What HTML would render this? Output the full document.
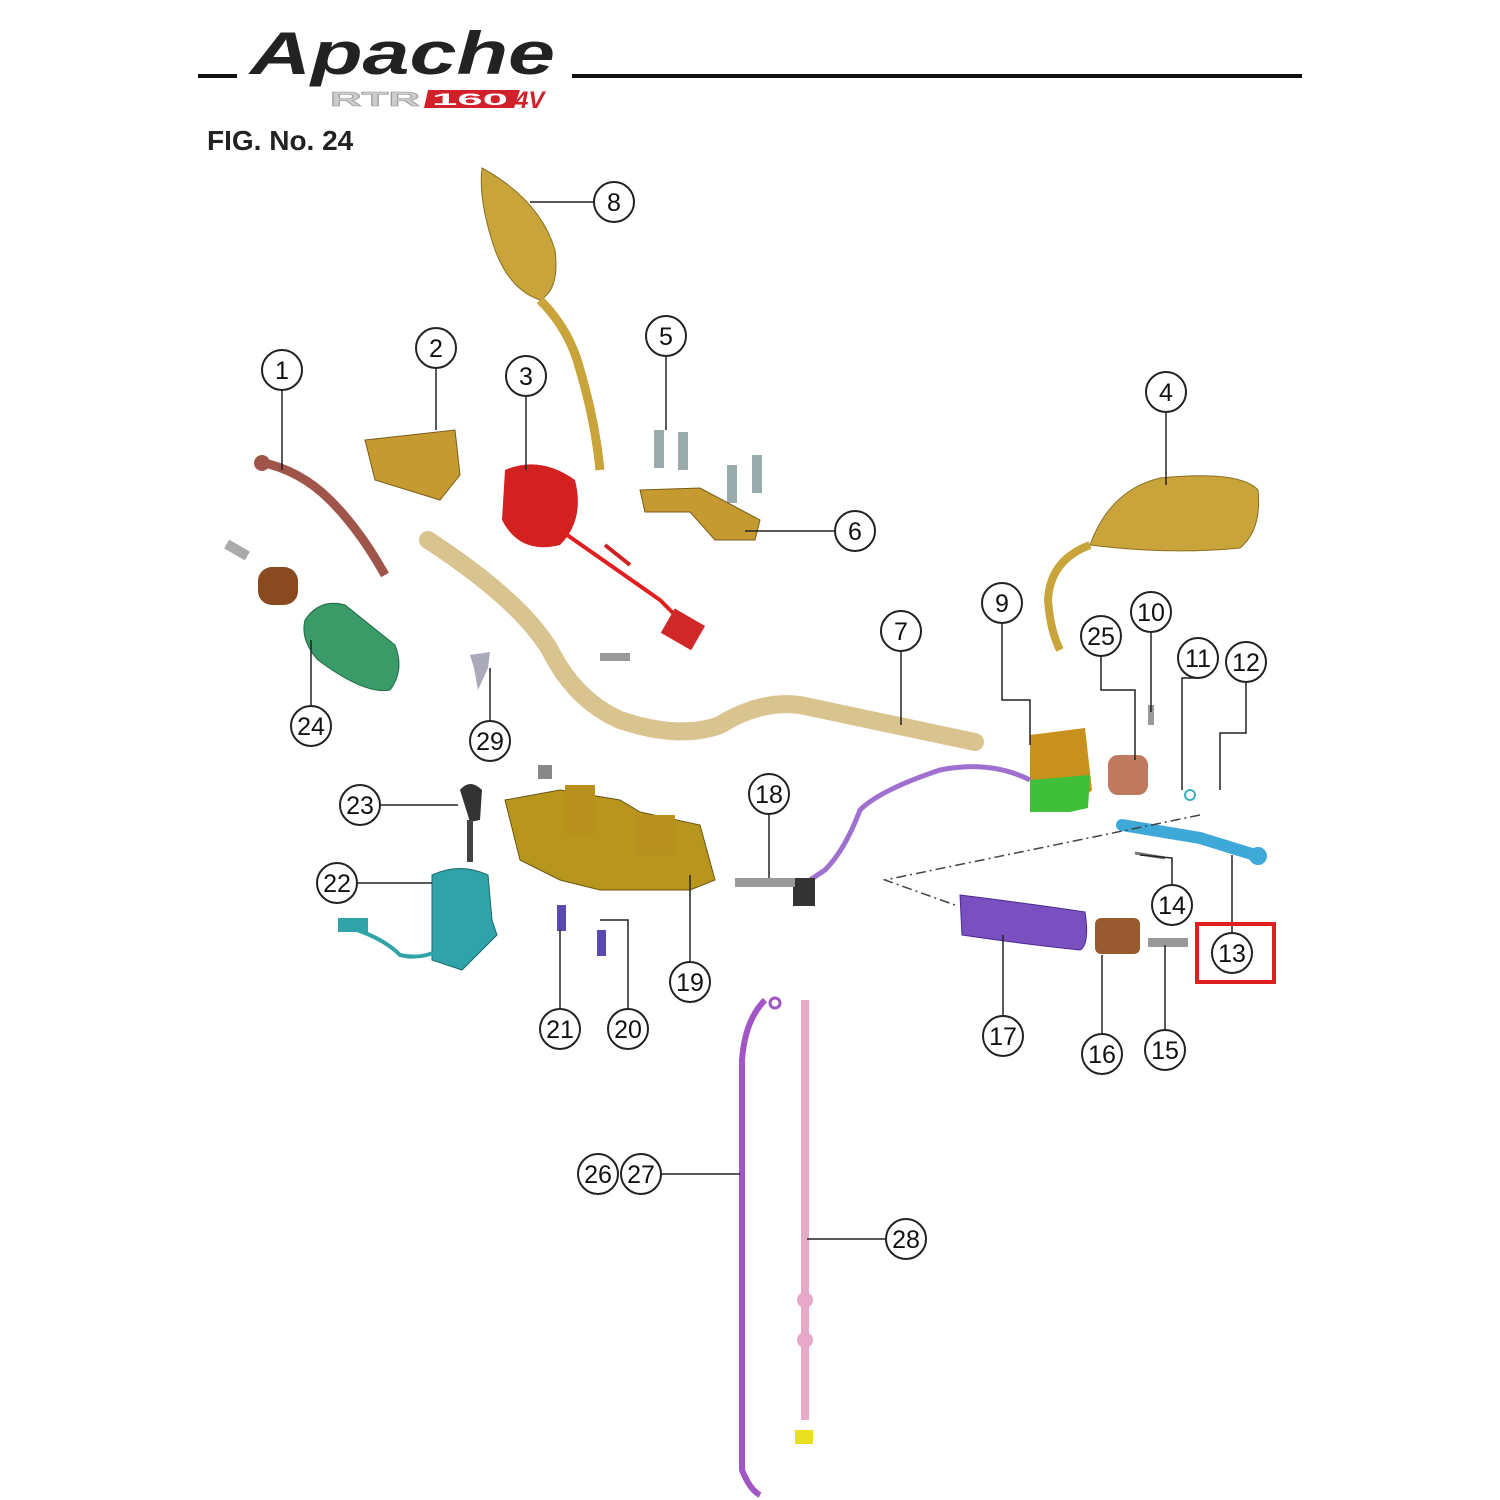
<!DOCTYPE html>
<html><head><style>
html,body{margin:0;padding:0;background:#fff;width:1500px;height:1500px;overflow:hidden}
svg text{font-family:"Liberation Sans",sans-serif}
</style></head><body>
<svg width="1500" height="1500" viewBox="0 0 1500 1500" xmlns="http://www.w3.org/2000/svg">
<rect width="1500" height="1500" fill="#fff"/>
<!-- header -->
<line x1="198" y1="76" x2="237" y2="76" stroke="#111" stroke-width="4"/>
<line x1="572" y1="76" x2="1302" y2="76" stroke="#111" stroke-width="4"/>
<text x="250" y="74" font-size="60" font-style="italic" font-weight="bold" fill="#222" textLength="305" lengthAdjust="spacingAndGlyphs" font-family="Liberation Serif">Apache</text>
<text x="330" y="106" font-size="20" fill="#ccc" stroke="#999" stroke-width="0.6" font-weight="bold" textLength="90" lengthAdjust="spacingAndGlyphs">RTR</text>
<polygon points="428,90 520,90 514,108 424,108" fill="#d0202a"/>
<text x="432" y="105" font-size="17" fill="#fff" font-weight="bold" textLength="76" lengthAdjust="spacingAndGlyphs">160</text>
<text x="515" y="108" font-size="24" font-style="italic" fill="#d0202a" font-weight="bold">4V</text>
<text x="207" y="150" font-size="28" font-weight="bold" fill="#222">FIG. No. 24</text>

<!-- mirror 8 -->
<path d="M482,168 Q540,200 555,250 Q560,290 540,300 Q510,290 495,250 Q478,200 482,168Z" fill="#c9a43a" stroke="#8a6f20"/>
<path d="M540,300 Q570,330 580,370 Q595,420 600,470" stroke="#c9a43a" stroke-width="9" fill="none"/>
<!-- mirror 4 -->
<path d="M1090,545 Q1110,490 1160,478 Q1240,470 1258,490 Q1262,530 1240,548 Q1170,555 1090,545Z" fill="#c9a43a" stroke="#8a6f20"/>
<path d="M1090,545 Q1050,560 1048,600 Q1050,630 1060,650" stroke="#c9a43a" stroke-width="8" fill="none"/>
<!-- handlebar 7 -->
<path d="M428,540 Q520,600 550,650 Q575,700 620,720 Q680,740 720,725 Q760,700 800,705 L975,742" stroke="#d9c38f" stroke-width="18" fill="none" stroke-linecap="round"/>
<!-- switch 3 -->
<path d="M505,470 Q540,455 575,480 Q585,520 560,545 Q520,555 502,520Z" fill="#d32020"/>
<path d="M560,530 L660,600 L690,630" stroke="#e02020" stroke-width="4" fill="none"/>
<rect x="665" y="615" width="35" height="28" fill="#d02828" transform="rotate(30 682 630)"/>
<line x1="605" y1="545" x2="630" y2="565" stroke="#d02020" stroke-width="4"/>
<!-- lever 1 -->
<path d="M260,462 Q300,470 330,500 Q360,530 385,575" stroke="#a0554a" stroke-width="9" fill="none"/>
<circle cx="262" cy="463" r="8" fill="#a0554a"/>
<!-- master cyl 2 -->
<path d="M365,440 L455,430 L460,475 L440,500 L375,480Z" fill="#c59a30" stroke="#7a5c1a"/>
<!-- bolts 5 -->
<rect x="654" y="430" width="10" height="38" fill="#9aa"/><rect x="678" y="432" width="10" height="38" fill="#9aa"/>
<rect x="727" y="465" width="10" height="38" fill="#9aa"/><rect x="752" y="455" width="10" height="38" fill="#9aa"/>
<!-- clamp 6 -->
<path d="M640,490 L700,488 L760,520 L755,540 L715,540 L690,512 L645,512Z" fill="#c59a30" stroke="#7a5c1a"/>
<!-- small parts left -->
<rect x="225" y="545" width="24" height="10" fill="#aaa" transform="rotate(30 237 550)"/>
<rect x="258" y="567" width="40" height="38" rx="14" fill="#8a4a20"/>
<path d="M305,620 Q320,598 345,605 L395,645 Q405,670 390,690 Q365,695 318,660 Q300,640 305,620Z" fill="#3a9a68" stroke="#1f6a44"/>
<path d="M470,655 L490,652 L488,668 L478,690 L474,668Z" fill="#aab"/>
<rect x="600" y="653" width="30" height="8" fill="#999"/>
<!-- switch 9 -->
<path d="M1030,735 L1085,728 L1092,790 L1070,812 L1030,812Z" fill="#c8901c"/>
<path d="M1030,780 L1090,775 L1088,808 L1070,812 L1030,812Z" fill="#3fbf3a"/>
<rect x="1108" y="755" width="40" height="40" rx="10" fill="#c07a60"/>
<circle cx="1190" cy="795" r="5" fill="none" stroke="#3ab0c0" stroke-width="2"/>
<rect x="1148" y="705" width="6" height="20" fill="#999"/>
<!-- purple wire -->
<path d="M1030,780 Q990,760 940,770 Q880,790 860,810 Q845,850 825,870 L810,880" stroke="#a070d0" stroke-width="5" fill="none"/>
<rect x="793" y="878" width="22" height="28" fill="#333"/>
<rect x="735" y="878" width="60" height="9" fill="#999"/>
<!-- lever 13 -->
<path d="M1122,825 L1200,838 L1255,855" stroke="#3ea8d8" stroke-width="12" fill="none" stroke-linecap="round"/>
<circle cx="1258" cy="856" r="9" fill="#3ea8d8"/>
<path d="M1135,853 L1165,858" stroke="#777" stroke-width="3"/>
<!-- dash-dot lines -->
<path d="M1200,815 L885,880 L955,905" stroke="#444" stroke-width="1.5" fill="none" stroke-dasharray="10,4,2,4"/>
<!-- grip 17 -->
<path d="M960,895 Q1040,905 1085,912 Q1090,945 1080,950 Q1030,945 962,935Z" fill="#7a50c0" stroke="#4a2a90"/>
<rect x="1095" y="918" width="45" height="36" rx="6" fill="#9a5a30"/>
<rect x="1148" y="938" width="40" height="9" fill="#999"/>
<!-- bracket 19 -->
<path d="M505,800 L560,790 L620,800 L640,812 L700,825 L715,880 L690,890 L600,890 L560,880 L520,860Z" fill="#b8961e" stroke="#6a5510"/>
<rect x="565" y="785" width="30" height="50" fill="#b8901e"/><rect x="635" y="815" width="40" height="40" fill="#b8901e"/>
<rect x="557" y="905" width="9" height="26" fill="#5a4ab0"/><rect x="597" y="930" width="9" height="26" fill="#5a4ab0"/>
<rect x="538" y="765" width="14" height="14" fill="#888"/>
<!-- key 23 -->
<path d="M460,790 Q470,778 482,790 L480,820 L470,822Z" fill="#333"/><rect x="467" y="820" width="6" height="42" fill="#444"/>
<!-- ignition 22 -->
<path d="M432,875 Q460,862 488,875 L492,920 L497,935 L462,970 L432,960Z" fill="#2fa3a8" stroke="#1a6a6c"/>
<path d="M340,925 Q380,935 400,955 Q420,960 440,950" stroke="#2fa3a8" stroke-width="4" fill="none"/>
<rect x="338" y="918" width="30" height="14" fill="#2fa3a8"/>
<!-- cable 26 -->
<path d="M765,1000 Q745,1020 742,1060 L742,1470 Q750,1490 760,1495" stroke="#a255c4" stroke-width="6" fill="none"/>
<circle cx="775" cy="1003" r="5" fill="none" stroke="#a255c4" stroke-width="3"/>
<!-- cable 28 -->
<line x1="805" y1="1000" x2="805" y2="1420" stroke="#e8a8c8" stroke-width="8"/>
<circle cx="805" cy="1300" r="8" fill="#e8a8c8"/><circle cx="805" cy="1340" r="8" fill="#e8a8c8"/>
<rect x="795" y="1430" width="18" height="14" fill="#e8e020"/>

<!-- leader lines -->
<g stroke="#222" stroke-width="1.5" fill="none">
<path d="M594,202 L530,202"/>
<path d="M282,390 L282,470"/>
<path d="M436,368 L436,430"/>
<path d="M526,396 L526,470"/>
<path d="M666,356 L666,430"/>
<path d="M1166,412 L1166,485"/>
<path d="M835,531 L745,531"/>
<path d="M901,651 L901,725"/>
<path d="M1002,623 L1002,700 L1030,700 L1030,745"/>
<path d="M1101,656 L1101,690 L1135,690 L1135,760"/>
<path d="M1151,632 L1151,712"/>
<path d="M1198,678 L1182,678 L1182,790"/>
<path d="M1246,682 L1246,733 L1220,733 L1220,790"/>
<path d="M311,706 L311,640"/>
<path d="M490,721 L490,668"/>
<path d="M380,805 L458,805"/>
<path d="M769,814 L769,878"/>
<path d="M357,883 L432,883"/>
<path d="M1172,885 L1172,858 L1140,855"/>
<path d="M1232,933 L1232,855"/>
<path d="M690,962 L690,875"/>
<path d="M560,1009 L560,930"/>
<path d="M628,1009 L628,920 L600,920"/>
<path d="M1003,1016 L1003,935"/>
<path d="M1102,1034 L1102,955"/>
<path d="M1165,1030 L1165,945"/>
<path d="M661,1174 L740,1174"/>
<path d="M886,1239 L807,1239"/>
</g>
<rect x="1197" y="924" width="77" height="58" fill="none" stroke="#e02020" stroke-width="4"/>
<!-- callouts -->
<g fill="#fff" stroke="#222" stroke-width="2">
<circle cx="614" cy="202" r="20"/><circle cx="282" cy="370" r="20"/><circle cx="436" cy="348" r="20"/>
<circle cx="526" cy="376" r="20"/><circle cx="666" cy="336" r="20"/><circle cx="1166" cy="392" r="20"/>
<circle cx="855" cy="531" r="20"/><circle cx="901" cy="631" r="20"/><circle cx="1002" cy="603" r="20"/>
<circle cx="1101" cy="636" r="20"/><circle cx="1151" cy="612" r="20"/><circle cx="1198" cy="658" r="20"/>
<circle cx="1246" cy="662" r="20"/><circle cx="311" cy="726" r="20"/><circle cx="490" cy="741" r="20"/>
<circle cx="360" cy="805" r="20"/><circle cx="769" cy="794" r="20"/><circle cx="337" cy="883" r="20"/>
<circle cx="1172" cy="905" r="20"/><circle cx="1232" cy="953" r="20"/><circle cx="690" cy="982" r="20"/>
<circle cx="560" cy="1029" r="20"/><circle cx="628" cy="1029" r="20"/><circle cx="1003" cy="1036" r="20"/>
<circle cx="1102" cy="1054" r="20"/><circle cx="1165" cy="1050" r="20"/><circle cx="598" cy="1174" r="20"/>
<circle cx="641" cy="1174" r="20"/><circle cx="906" cy="1239" r="20"/>
</g>
<g font-size="25" fill="#111" text-anchor="middle">
<text x="614" y="211">8</text><text x="282" y="379">1</text><text x="436" y="357">2</text>
<text x="526" y="385">3</text><text x="666" y="345">5</text><text x="1166" y="401">4</text>
<text x="855" y="540">6</text><text x="901" y="640">7</text><text x="1002" y="612">9</text>
<text x="1101" y="645">25</text><text x="1151" y="621">10</text><text x="1198" y="667">11</text>
<text x="1246" y="671">12</text><text x="311" y="735">24</text><text x="490" y="750">29</text>
<text x="360" y="814">23</text><text x="769" y="803">18</text><text x="337" y="892">22</text>
<text x="1172" y="914">14</text><text x="1232" y="962">13</text><text x="690" y="991">19</text>
<text x="560" y="1038">21</text><text x="628" y="1038">20</text><text x="1003" y="1045">17</text>
<text x="1102" y="1063">16</text><text x="1165" y="1059">15</text><text x="598" y="1183">26</text>
<text x="641" y="1183">27</text><text x="906" y="1248">28</text>
</g>
</svg>
</body></html>
